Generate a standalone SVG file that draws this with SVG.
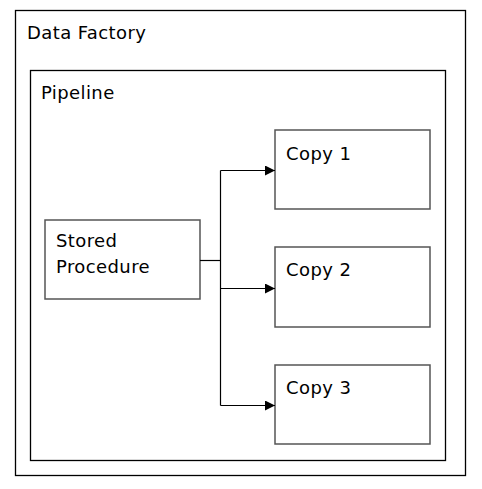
<svg xmlns="http://www.w3.org/2000/svg" width="482" height="489" viewBox="0 0 482 489">
<defs>
<marker id="arr" viewBox="0 0 10 10" refX="10" refY="5" markerWidth="10" markerHeight="10" markerUnits="userSpaceOnUse" orient="auto">
<path d="M0,0 L10,5 L0,10 z" fill="#000"/>
</marker>
<style>
.frame{fill:#fff;stroke:#000;stroke-width:1.3}
.node{fill:#fff;stroke:#555;stroke-width:1.5}
.t{font-family:"DejaVu Sans","Open Sans",sans-serif;font-size:18px;letter-spacing:0.4px;fill:#000}
.c{fill:none;stroke:#000;stroke-width:1.2}
</style>
</defs>
<rect width="482" height="489" fill="#fff"/>
<g id="data-factory">
<rect class="frame" x="15.5" y="10.5" width="450" height="465"/>
<text class="t" x="27" y="39">Data Factory</text>
</g>
<g id="pipeline">
<rect class="frame" x="30.5" y="70.5" width="415" height="390"/>
<text class="t" x="41" y="99">Pipeline</text>
</g>
<g id="stored-procedure">
<rect class="node" x="45" y="220" width="155" height="79"/>
<text class="t" x="56" y="247">Stored</text>
<text class="t" x="56" y="273">Procedure</text>
</g>
<g id="copy1">
<rect class="node" x="275" y="130" width="155" height="79"/>
<text class="t" x="286" y="160">Copy 1</text>
</g>
<g id="copy2">
<rect class="node" x="275" y="247" width="155" height="80"/>
<text class="t" x="286" y="276">Copy 2</text>
</g>
<g id="copy3">
<rect class="node" x="275" y="365" width="155" height="79"/>
<text class="t" x="286" y="394">Copy 3</text>
</g>
<g id="connectors">
<path class="c" d="M200,260.5 H220.5"/>
<path class="c" d="M220.5,170.5 V405.5"/>
<path class="c" d="M220.5,170.5 H275" marker-end="url(#arr)"/>
<path class="c" d="M220.5,288.5 H275" marker-end="url(#arr)"/>
<path class="c" d="M220.5,405.5 H275" marker-end="url(#arr)"/>
</g>
</svg>
